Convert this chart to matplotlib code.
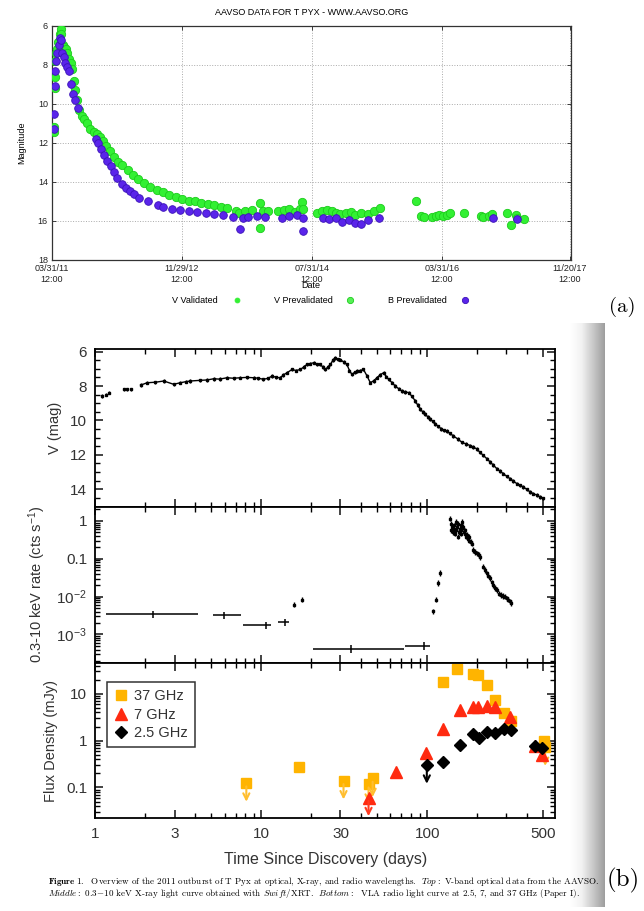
import numpy as np
import matplotlib
import matplotlib.pyplot as plt
import matplotlib.dates as mdates
from matplotlib.lines import Line2D
from matplotlib.colors import LinearSegmentedColormap
from matplotlib.ticker import FixedLocator, MultipleLocator, LogLocator, NullFormatter

plt.rcParams['font.family'] = ['Liberation Sans', 'DejaVu Sans']
plt.rcParams['mathtext.fontset'] = 'custom'
plt.rcParams['mathtext.rm'] = 'Liberation Sans'
plt.rcParams['mathtext.it'] = 'Liberation Sans:italic'
plt.rcParams['mathtext.bf'] = 'Liberation Sans:bold'

W, H = 644, 911

# ---- panel (a): AAVSO light curve, days since 2011-03-31 12:00 ----
v_day = [8, 10, 12, 13, 16, 20, 25, 30, 36, 40, 44, 50, 58, 66, 72, 80, 88, 96, 104, 110,
         118, 128, 140, 150, 165, 180, 195, 210, 225, 240, 255, 270, 290, 310, 330, 355,
         380, 405, 430, 460, 490, 520, 550, 580, 610, 640, 670, 700, 730, 760, 790, 820,
         860, 875, 905, 935, 975, 975, 990, 1010, 1060, 1085, 1110, 1140, 1160, 1172, 1175,
         1240, 1265, 1290, 1310, 1330, 1350, 1380, 1400, 1420, 1450, 1480, 1510, 1535,
         1705, 1730, 1745, 1780, 1800, 1815, 1830, 1850, 1865, 1930, 2010, 2020, 2050,
         2060, 2130, 2150, 2175, 2180, 2210]
v_mag = [11.45, 11.2, 9.2, 8.6, 7.8, 7.4, 7.2, 6.8, 6.4, 6.15, 6.4, 7.0, 7.1, 7.2, 7.4, 7.7,
         7.9, 8.2, 8.8, 9.3, 9.8, 10.3, 10.6, 10.75, 11.0, 11.3, 11.45, 11.55, 11.7, 11.9,
         12.15, 12.4, 12.7, 12.95, 13.15, 13.4, 13.65, 13.85, 14.05, 14.25, 14.4, 14.5,
         14.65, 14.75, 14.85, 14.95, 15.0, 15.1, 15.15, 15.2, 15.3, 15.35, 15.5, 15.6, 15.5,
         15.45, 15.1, 16.35, 15.5, 15.5, 15.5, 15.45, 15.4, 15.55, 15.4, 15.05, 15.4, 15.6,
         15.5, 15.45, 15.5, 15.6, 15.65, 15.6, 15.55, 15.7, 15.6, 15.65, 15.5, 15.35, 14.95,
         15.75, 15.8, 15.8, 15.75, 15.7, 15.75, 15.7, 15.6, 15.6, 15.75, 15.8, 15.75, 15.65,
         15.6, 16.2, 15.7, 15.85, 15.9]
b_day = [10, 11, 12, 14, 18, 25, 32, 38, 42, 48, 55, 62, 70, 80, 90, 100, 110, 120, 205, 215,
         230, 245, 260, 275, 290, 305, 330, 345, 365, 385, 410, 450, 495, 520, 560, 600, 640,
         680, 720, 760, 800, 850, 880, 895, 920, 960, 1000, 1080, 1110, 1150, 1175, 1175,
         1270, 1300, 1330, 1360, 1390, 1420, 1450, 1480, 1530, 2065, 2180]
b_mag = [11.3, 10.5, 9.1, 8.3, 7.8, 7.4, 7.0, 6.6, 6.7, 7.4, 7.6, 7.9, 8.1, 8.3, 9.0, 9.5, 9.8,
         10.2, 11.8, 12.0, 12.3, 12.6, 12.9, 13.2, 13.5, 13.8, 14.1, 14.3, 14.45, 14.6, 14.8,
         15.0, 15.2, 15.3, 15.4, 15.45, 15.5, 15.55, 15.6, 15.65, 15.7, 15.8, 16.4, 15.85,
         15.8, 15.75, 15.8, 15.85, 15.75, 15.7, 15.85, 16.5, 15.85, 15.9, 15.85, 16.05, 15.95,
         16.1, 16.15, 15.95, 15.85, 15.85, 15.9]
date_ticks = ['2011-03-31T12:00', '2012-11-29T12:00', '2014-07-31T12:00',
              '2016-03-31T12:00', '2017-11-20T12:00']

# ---- panel (b) top: V band (days since discovery, mag) ----
opt_day = [1.10, 1.15, 1.20, 1.48, 1.55, 1.63, 1.87, 2.05, 2.3, 2.58, 2.96, 3.25, 3.5, 3.73,
           4.29, 4.7, 5.16, 5.6, 6.21, 6.8, 7.47, 8.2, 8.99, 9.6, 10.3, 11.0, 11.6, 12.3, 13.0,
           13.6, 14.3, 15.3, 16.2, 17.2, 18.0, 18.8, 19.7, 20.7, 21.7, 22.7, 23.5, 24.3, 25.2,
           26.1, 27.0, 27.9, 28.9, 29.9, 31.3, 32.8, 34.0, 35.2, 36.5, 37.7, 39.5, 41.3, 43.3,
           45.4, 47.5, 49.8, 52.0, 54.6, 56.5, 58.5, 61.3, 64.2, 67.2, 70.4, 73.8, 77.2, 81.0,
           84.7, 87.6, 90.7, 94.0, 97.2, 101, 104, 108, 112, 117, 122, 127, 131, 137, 144, 153,
           162, 172, 182, 190, 199, 208, 218, 229, 240, 251, 263, 275, 288, 302, 316, 331, 347,
           363, 380, 398, 417, 437, 458, 480, 502]
opt_mag = [8.58, 8.5, 8.38, 8.19, 8.2, 8.19, 7.95, 7.81, 7.78, 7.71, 7.9, 7.81, 7.75, 7.71,
           7.67, 7.65, 7.58, 7.6, 7.52, 7.55, 7.52, 7.5, 7.52, 7.55, 7.61, 7.55, 7.42, 7.5,
           7.52, 7.35, 7.23, 7.04, 7.1, 7.04, 6.9, 6.75, 6.7, 6.65, 6.75, 6.75, 6.9, 7.04, 6.9,
           6.75, 6.5, 6.37, 6.45, 6.46, 6.6, 6.75, 7.1, 7.33, 7.2, 7.14, 7.1, 7.04, 7.4, 7.81,
           7.7, 7.52, 7.35, 7.23, 7.45, 7.61, 7.8, 8.0, 8.15, 8.29, 8.35, 8.38, 8.6, 8.86, 9.1,
           9.34, 9.5, 9.63, 9.8, 9.92, 10.05, 10.2, 10.35, 10.5, 10.58, 10.62, 10.75, 10.9,
           11.08, 11.27, 11.37, 11.46, 11.55, 11.65, 11.85, 12.03, 12.22, 12.42, 12.6, 12.8,
           12.95, 13.09, 13.25, 13.38, 13.52, 13.67, 13.77, 13.86, 14.0, 14.15, 14.25, 14.34,
           14.45, 14.53]

# ---- panel (b) middle: Swift/XRT ----
xb_day = [2.22, 5.98, 10.7, 13.8, 34.8, 95.9]
xb_lo = [1.15, 5.09, 7.71, 12.6, 20.4, 73.7]
xb_hi = [4.13, 7.58, 11.4, 14.6, 72.0, 104]
xb_rate = [3.4e-3, 3.2e-3, 1.74e-3, 2.1e-3, 4.1e-4, 5.0e-4]
xr_day = [15.8, 17.6, 109, 113, 116, 119, 138, 139, 140, 142, 143, 145, 146, 147, 149, 150,
          151, 153, 154, 156, 157, 159, 160, 161, 163, 164, 166, 168, 170, 172, 174, 176, 178,
          180, 183, 186, 190, 195, 199, 204, 208, 218, 224, 229, 234, 240, 246, 251, 257, 263,
          270, 278, 286, 295, 302, 309, 314, 319]
xr_rate = [6.1e-3, 8.3e-3, 4.1e-3, 8.3e-3, 0.023, 0.042, 1.14, 0.56, 0.84, 0.69, 0.51, 0.76,
           0.62, 0.46, 0.93, 0.56, 0.69, 0.38, 0.84, 0.51, 0.62, 0.46, 0.76, 0.56, 0.93, 0.69,
           0.51, 0.56, 0.46, 0.38, 0.42, 0.34, 0.38, 0.30, 0.28, 0.25, 0.17, 0.15, 0.14, 0.125,
           0.11, 0.062, 0.05, 0.041, 0.036, 0.031, 0.024, 0.020, 0.017, 0.015, 0.012, 0.011,
           0.0105, 0.010, 0.009, 0.0083, 0.0075, 0.0068]

# ---- panel (b) bottom: VLA radio ----
r37_day = [8.12, 16.8, 31.3, 44.3, 46.9, 125, 151, 188, 202, 229, 257, 291, 321, 507, 515]
r37_flux = [0.124, 0.27, 0.139, 0.118, 0.156, 17.8, 34, 26, 24.7, 15.6, 7.4, 3.9, 2.6, 1.0, 0.72]
r37_ul = [1, 0, 1, 1, 1, 0, 0, 0, 0, 0, 0, 0, 0, 0, 1]
r7_day = [44.3, 65, 98.2, 125, 158, 188, 202, 229, 257, 316, 447, 491]
r7_flux = [0.061, 0.217, 0.55, 1.78, 4.4, 5.2, 5.2, 5.4, 5.2, 3.2, 0.78, 0.49]
r7_ul = [1, 0, 0, 0, 0, 0, 0, 0, 0, 0, 0, 0]
r25_day = [99.5, 125, 158, 188, 204, 229, 257, 291, 321, 447, 491]
r25_flux = [0.30, 0.344, 0.81, 1.39, 1.14, 1.51, 1.47, 1.78, 1.71, 0.76, 0.69]
r25_ul = [1, 0, 0, 0, 0, 0, 0, 0, 0, 0, 0]

caption1 = ("Overview of the 2011 outburst of T Pyx at optical, X-ray, and radio "
            "wavelengths.  ")
caption2 = " keV X-ray light curve obtained with "


def rect(l, t, r, b):
    return [l / W, 1 - b / H, (r - l) / W, (b - t) / H]


fig = plt.figure(figsize=(W / 100, H / 100), dpi=100)

# grey page shadow on the right of panel (b)
axg = fig.add_axes(rect(570, 323, 605, 907))
shade = LinearSegmentedColormap.from_list('shade', ['#ffffff', '#f2f2f2', '#c8c8c8', '#9e9e9e'])
axg.imshow(np.linspace(0, 1, 64)[None, :], cmap=shade, aspect='auto')
axg.axis('off')

# ================= panel (a) =================
green, green_e = '#33f033', '#1ccc1c'
purple, purple_e = '#5a24ea', '#3a12b8'
t0 = np.datetime64('2011-03-31T12:00')


def to_date(days):
    return t0 + (np.asarray(days, dtype=float) * 1440).astype('timedelta64[m]')


axa = fig.add_axes(rect(52, 26, 571, 260))
axa.plot(to_date(v_day), v_mag, 'o', ms=6, color=green, mec=green_e, mew=0.6, zorder=3)
axa.plot(to_date(b_day), b_mag, 'o', ms=5.5, color=purple, mec=purple_e, mew=0.6, zorder=4)
axa.set_ylim(18, 6)
axa.set_xlim(t0, t0 + np.timedelta64(2432, 'D'))
axa.set_yticks([6, 8, 10, 12, 14, 16, 18])
axa.set_xticks(np.array(date_ticks, dtype='datetime64[m]'))
axa.xaxis.set_major_formatter(mdates.DateFormatter('%m/%d/%y\n%H:%M'))
axa.grid(True, ls=':', color='#aaaaaa', lw=0.7)
axa.tick_params(direction='in', length=3, width=0.6, labelsize=6.5, top=True, right=True,
                colors='#222222', pad=3)
for s in axa.spines.values():
    s.set_linewidth(0.9)
    s.set_color('#333333')
axa.set_title('AAVSO DATA FOR T PYX - WWW.AAVSO.ORG', fontsize=6.5, pad=8)
axa.set_ylabel('Magnitude', fontsize=6.5, labelpad=8)
fig.text(311 / W, 1 - 285 / H, 'Date', fontsize=6.5, ha='center', va='center')

leg_items = [('V Validated', 218, 237, green, green, 3.5),
             ('V Prevalidated', 333, 350, '#55f055', green_e, 4.5),
             ('B Prevalidated', 447, 465, purple, purple_e, 4.5)]
for lab, tx, mx, fc, ec, ms in leg_items:
    fig.text(tx / W, 1 - 300 / H, lab, fontsize=6.5, ha='right', va='center')
    fig.add_artist(Line2D([mx / W], [1 - 300 / H], marker='o', ms=ms, color=fc, mec=ec,
                          mew=0.6, ls='none', transform=fig.transFigure))

fig.text(622 / W, 1 - 307 / H, '(a)', fontsize=15, family=['cmr10', 'DejaVu Serif'],
         ha='center', va='center')

# ================= panel (b) =================
L, R = 95.5, 555
ax1 = fig.add_axes(rect(L, 349, R, 506.5))
ax2 = fig.add_axes(rect(L, 506.5, R, 662.7))
ax3 = fig.add_axes(rect(L, 662.7, R, 818.3))

for ax in (ax1, ax2, ax3):
    ax.set_xscale('log')
    ax.set_xlim(1, 590)
    ax.xaxis.set_major_locator(FixedLocator([1, 3, 10, 30, 100, 500]))
    ax.xaxis.set_minor_locator(LogLocator(subs=np.arange(2, 10), numticks=20))
    ax.xaxis.set_minor_formatter(NullFormatter())
    ax.tick_params(which='major', direction='in', length=6, width=1.1, top=True, right=True,
                   labelsize=11, colors='#111111', labelcolor='#333333', pad=6)
    ax.tick_params(which='minor', direction='in', length=3.5, width=1.0, top=True, right=True)
    for s in ax.spines.values():
        s.set_linewidth(1.3)
for ax in (ax1, ax2):
    ax.tick_params(labelbottom=False)

# top: V mag
ax1.errorbar(opt_day, opt_mag, yerr=0.1, fmt='s', ms=1.6, color='black', elinewidth=1,
             capsize=0)
d_arr = np.array(opt_day)
m_arr = np.array(opt_mag)
ax1.plot(d_arr[d_arr > 1.8], m_arr[d_arr > 1.8], '-', color='black', lw=1.0)
ax1.set_ylim(15, 5.85)
ax1.yaxis.set_major_locator(FixedLocator([6, 8, 10, 12, 14]))
ax1.yaxis.set_minor_locator(MultipleLocator(0.5))
ax1.set_ylabel('V (mag)', fontsize=10.5, color='#333333', labelpad=6)

# middle: X-ray
xb_day_a = np.array(xb_day)
xerr = [xb_day_a - np.array(xb_lo), np.array(xb_hi) - xb_day_a]
xb_rate_a = np.array(xb_rate)
ax2.errorbar(xb_day, xb_rate, xerr=xerr, yerr=[xb_rate_a * 0.2, xb_rate_a * 0.25],
             fmt='none', ecolor='black', elinewidth=1.1, capsize=0)
xr_rate_a = np.array(xr_rate)
ax2.errorbar(xr_day, xr_rate, yerr=[xr_rate_a * 0.15, xr_rate_a * 0.18], fmt='s', ms=1.8,
             color='black', elinewidth=1, capsize=0)
ax2.set_yscale('log')
ax2.set_ylim(1.8e-4, 2.4)
ax2.yaxis.set_major_locator(FixedLocator([1e-3, 1e-2, 0.1, 1]))
ax2.yaxis.set_minor_locator(LogLocator(subs=np.arange(2, 10), numticks=20))
ax2.yaxis.set_minor_formatter(NullFormatter())
ax2.set_yticklabels(['$10^{-3}$', '$10^{-2}$', '0.1', '1'])
ax2.set_ylabel('0.3-10 keV rate (cts s$^{-1}$)', fontsize=10.5, color='#333333', labelpad=6)

# bottom: radio
series = [('37 GHz', r37_day, r37_flux, r37_ul, 's', '#ffb400', '#ffbe30', 7.5, 2),
          ('7 GHz', r7_day, r7_flux, r7_ul, '^', '#ff2a10', '#ff3a20', 8, 3),
          ('2.5 GHz', r25_day, r25_flux, r25_ul, 'D', 'black', 'black', 6, 4)]
handles = []
for lab, d, f, ul, mk, col, acol, ms, z in series:
    h, = ax3.plot(d, f, mk, color=col, ms=ms, mec=col, ls='none', zorder=z, label=lab)
    handles.append(h)
    for di, fi, u in zip(d, f, ul):
        if u:
            ax3.annotate('', xy=(di, fi * 0.4), xytext=(di, fi * 0.85),
                         arrowprops=dict(arrowstyle='->', color=acol, lw=1.5,
                                         mutation_scale=11, shrinkA=0, shrinkB=0), zorder=z)
ax3.set_yscale('log')
ax3.set_ylim(0.022, 46)
ax3.yaxis.set_major_locator(FixedLocator([0.1, 1, 10]))
ax3.yaxis.set_minor_locator(LogLocator(subs=np.arange(2, 10), numticks=20))
ax3.yaxis.set_minor_formatter(NullFormatter())
ax3.set_yticklabels(['0.1', '1', '10'])
ax3.set_xticklabels(['1', '3', '10', '30', '100', '500'])
ax3.set_ylabel('Flux Density (mJy)', fontsize=10.5, color='#333333', labelpad=6)
ax3.set_xlabel('Time Since Discovery (days)', fontsize=11.5, color='#333333', labelpad=8)
leg = ax3.legend(handles=handles, loc='upper left', bbox_to_anchor=(0.026, 0.875),
                 fontsize=10.5, frameon=True, fancybox=False, handlelength=0.8,
                 handletextpad=0.5, borderpad=0.5, labelspacing=0.3, borderaxespad=0)
leg.get_frame().set_edgecolor('black')
leg.get_frame().set_linewidth(1.1)
for t in leg.get_texts():
    t.set_color('#333333')

# caption
cap_font = ['cmr10', 'DejaVu Serif']
fig.text(48 / W, 1 - 882 / H,
         r'$\mathbf{Figure\ 1.}$  ' + caption1 + r'$\mathit{Top:}$ V-band optical data from the AAVSO.',
         fontsize=6.5, family=cap_font, math_fontfamily='cm', va='center')
fig.text(48 / W, 1 - 894 / H,
         r'$\mathit{Middle:}$ 0.3$\!-\!$10' + caption2 + r'$\mathit{Swift}$/XRT.  $\mathit{Bottom:}$  '
         'VLA radio light curve at 2.5, 7, and 37 GHz (Paper I).',
         fontsize=6.5, family=cap_font, math_fontfamily='cm', va='center')
fig.text(623 / W, 1 - 880 / H, '(b)', fontsize=18, family=['cmr10', 'DejaVu Serif'],
         ha='center', va='center')

fig.savefig('out.png', dpi=100)
